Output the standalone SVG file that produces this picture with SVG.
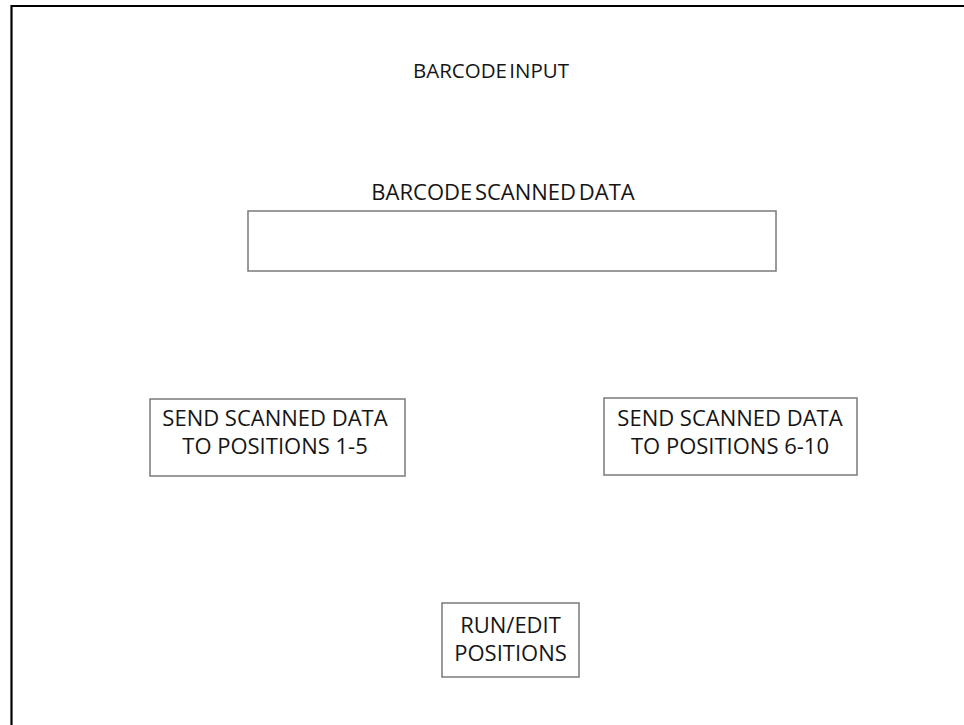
<svg xmlns="http://www.w3.org/2000/svg" width="964" height="725" viewBox="0 0 964 725">
<style>
.t{font-family:"Open Sans","Liberation Sans",sans-serif;font-size:22px;fill:#151515;text-anchor:middle}
.box{fill:#fff;stroke:#7a7a7a;stroke-width:1.5}
</style>
<rect width="964" height="725" fill="#fff"/>
<path d="M11.5 726 V6 H966" fill="none" stroke="#000" stroke-width="2.2"/>
<g id="title"><text class="t" x="491" y="78" style="font-size:20.5px;word-spacing:-3px">BARCODE INPUT</text></g>
<g id="scanned">
<text class="t" x="503" y="200" style="word-spacing:-3px">BARCODE SCANNED DATA</text>
<rect class="box" x="248" y="211" width="528" height="60"/>
</g>
<g id="send1">
<rect class="box" x="150" y="399" width="255" height="77"/>
<text class="t" x="275" y="425.5">SEND SCANNED DATA</text>
<text class="t" x="275" y="453.5">TO POSITIONS 1-5</text>
</g>
<g id="send2">
<rect class="box" x="604" y="398" width="253" height="77"/>
<text class="t" x="730" y="425.5">SEND SCANNED DATA</text>
<text class="t" x="730" y="453.5">TO POSITIONS 6-10</text>
</g>
<g id="run">
<rect class="box" x="442" y="603" width="137" height="74"/>
<text class="t" x="510.5" y="633">RUN/EDIT</text>
<text class="t" x="510.5" y="661">POSITIONS</text>
</g>
<g id="connectors"></g>
</svg>
